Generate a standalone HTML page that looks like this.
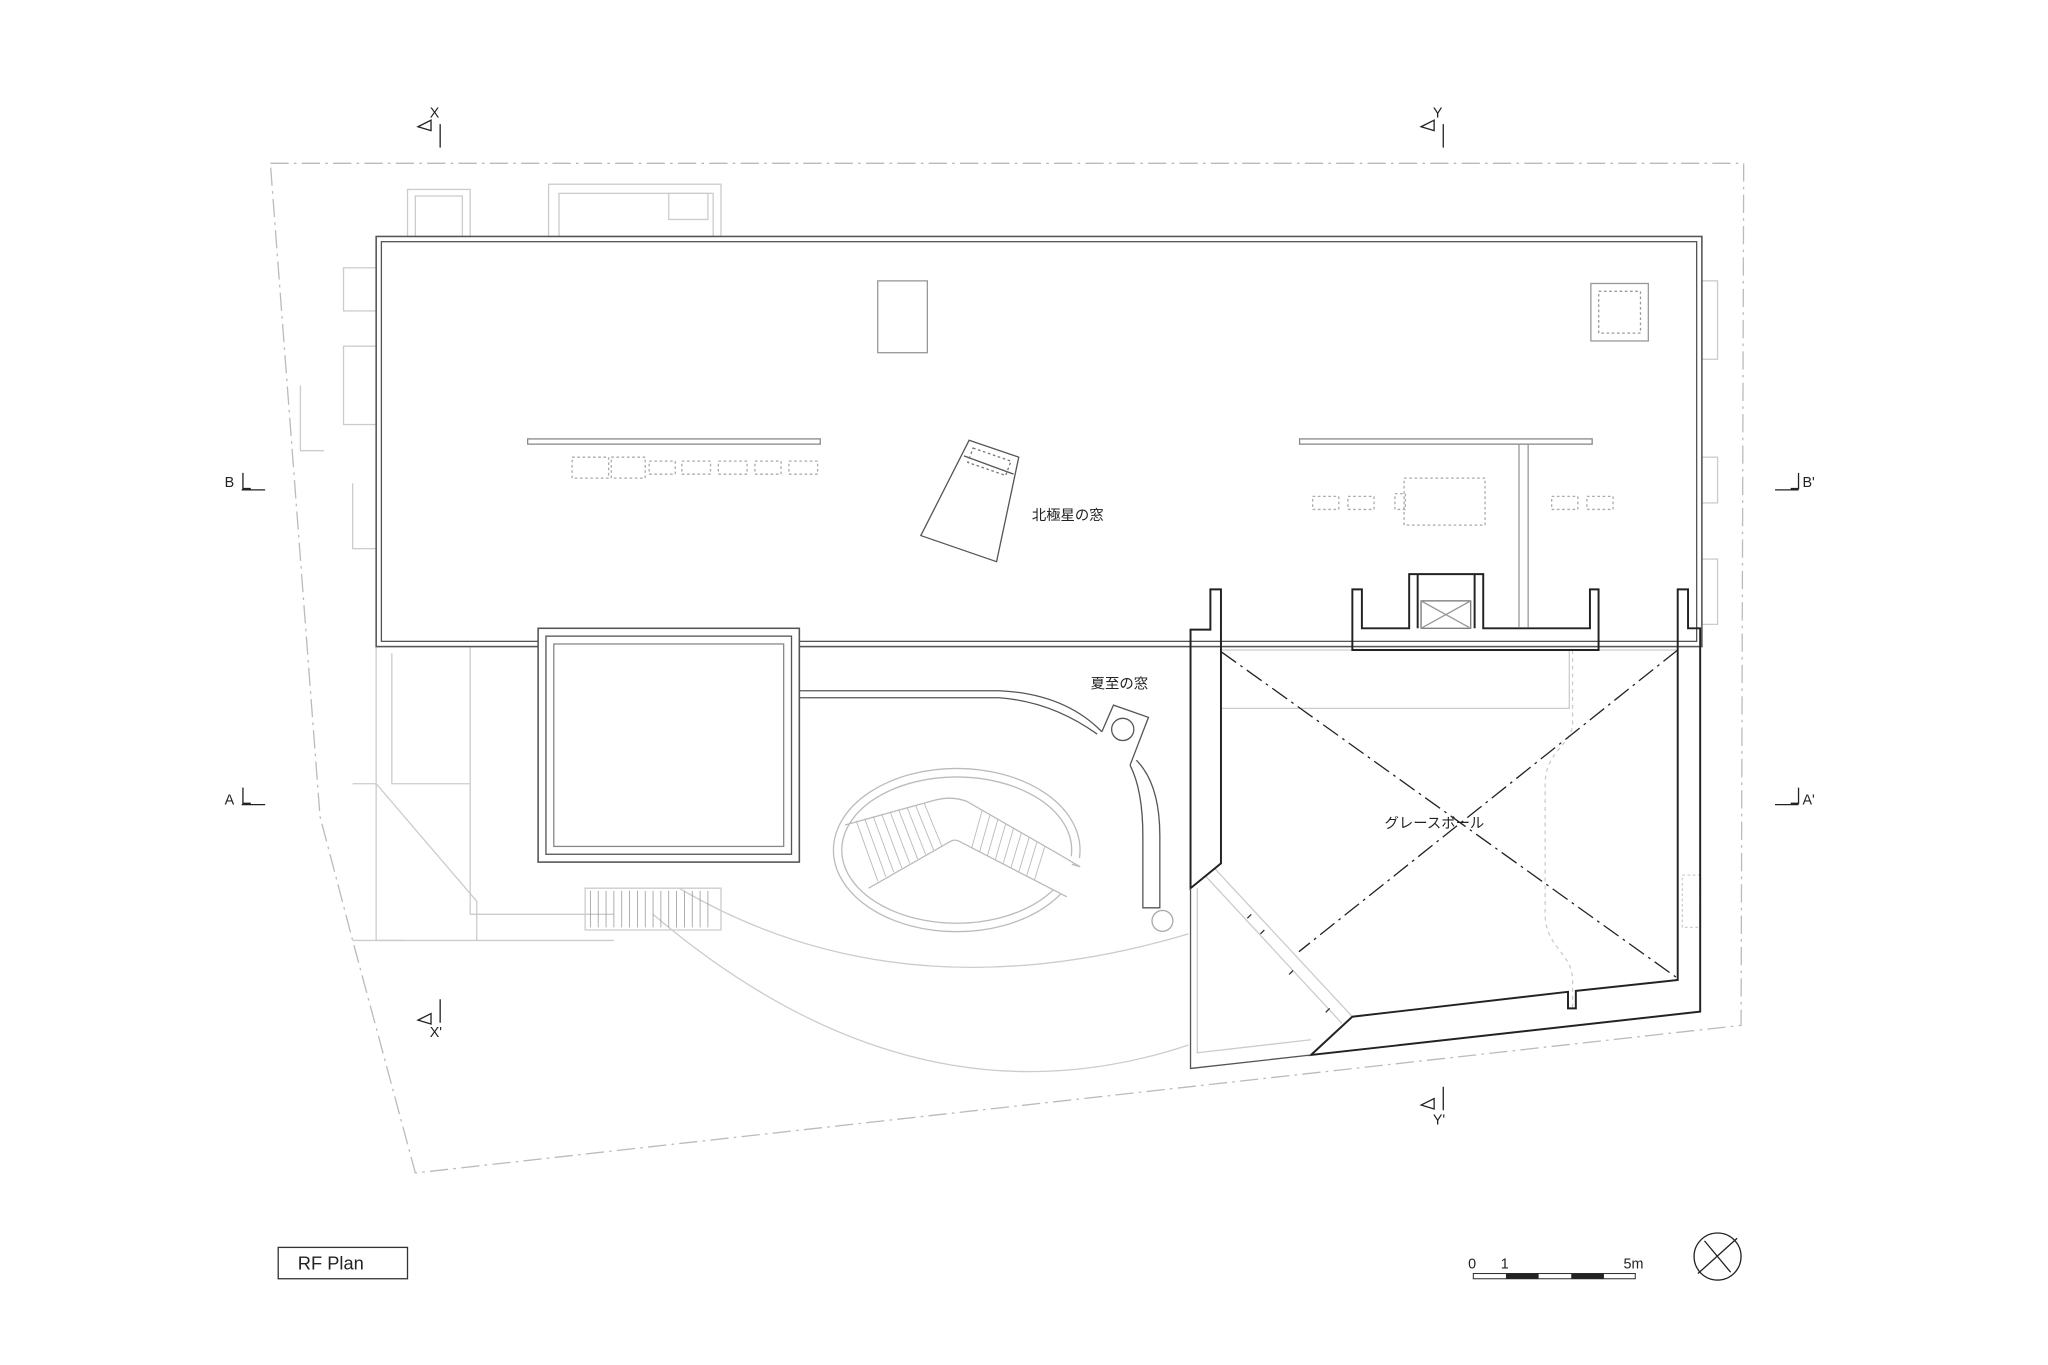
<!DOCTYPE html>
<html><head><meta charset="utf-8"><style>
html,body{margin:0;padding:0;background:#fff}
svg{display:block}
text{font-family:"Liberation Sans","Noto Sans CJK JP",sans-serif;fill:#222}
</style></head><body>
<svg width="2048" height="1365" viewBox="0 0 1568 1045" xmlns="http://www.w3.org/2000/svg">
<rect width="1568" height="1045" fill="#fff"/>
<!-- site boundary -->
<path d="M207,125 L1335,125 L1333,785 L318,898 L270,720 L245,625 Z" fill="none" stroke="#bbb" stroke-width="1" stroke-dasharray="14,4,2,4"/>
<!-- light neighbouring elements -->
<g fill="none" stroke="#ccc" stroke-width="1">
<rect x="312" y="145" width="48" height="36"/><rect x="318" y="150" width="36" height="31"/>
<rect x="420" y="141" width="132" height="40"/><rect x="428" y="148" width="118" height="33"/>
<rect x="512" y="148" width="30" height="20"/>
<rect x="263" y="205" width="25" height="33"/><rect x="263" y="265" width="25" height="60"/>
<path d="M230,295 L230,345 L248,345 M270,370 L270,420 L288,420"/>
<rect x="1303" y="215" width="12" height="60"/><rect x="1303" y="350" width="12" height="35"/><rect x="1303" y="428" width="12" height="50"/>
<path d="M288,495 L288,720 L470,720 M300,500 L300,600 L360,600 L360,700 L470,700 M360,495 L360,600"/>
<path d="M270,600 L288,600 L365,690 L365,720 M270,720 L310,720"/>
<path d="M448,680 L552,680 L552,712 L448,712 Z"/>
<path d="M500,700 Q700,870 910,800" />
<path d="M520,680 Q690,780 910,715"/>
<path d="M916.7,680 L916.7,806 L1003.7,796"/>
<rect x="1288" y="670" width="14" height="40" stroke-dasharray="2,2"/>
<path d="M1204,497.6 L1204,553.8 C1204,570 1183,575 1183,600 L1183,700 C1183,725 1204,730 1204,750 L1204,773" stroke-dasharray="3,3"/>
<path d="M934,497.6 L1035,497.6 M935,542.3 L1201.5,542.3 L1201.5,497.6"/>
<path d="M1223.9,497.6 L1284.5,497.6"/>
<path d="M923.3,671 L1027.4,783.5 M929.9,664.8 L1035.4,778.4"/>
</g>
<g stroke="#333" stroke-width="1">
<path d="M958,700 l-3,3 M968,712 l-3,3 M990,743 l-3,3 M1018,772 l-3,3"/>
</g>
<!-- stair treads -->
<g stroke="#999" stroke-width="0.6">
<path d="M452,682 v28 M458,682 v28 M464,682 v28 M470,682 v28 M476,682 v28 M482,682 v28 M488,682 v28 M494,682 v28 M500,682 v28 M506,682 v28 M512,682 v28 M518,682 v28 M524,682 v28 M530,682 v28 M536,682 v28 M542,682 v28"/>
</g>
<!-- main roof -->
<rect x="288" y="181" width="1015" height="314" fill="none" stroke="#555" stroke-width="1.2"/>
<rect x="292" y="185" width="1007" height="306" fill="none" stroke="#555" stroke-width="1"/>
<rect x="672" y="215" width="38" height="55" fill="none" stroke="#999"/>
<rect x="1218" y="217" width="44" height="44" fill="none" stroke="#999"/>
<rect x="1224" y="223" width="32" height="32" fill="none" stroke="#999" stroke-dasharray="2,2"/>
<rect x="404" y="336" width="224" height="4" fill="none" stroke="#888"/>
<rect x="995" y="336" width="224" height="4" fill="none" stroke="#888"/>
<path d="M1163,340 L1163,480 M1170,340 L1170,480" stroke="#999" fill="none"/>
<g fill="none" stroke="#aaa" stroke-dasharray="2,2">
<rect x="438" y="350" width="28" height="16"/><rect x="468" y="350" width="26" height="16"/><rect x="497" y="353" width="20" height="10"/><rect x="522" y="353" width="22" height="10"/><rect x="550" y="353" width="22" height="10"/><rect x="578" y="353" width="20" height="10"/><rect x="604" y="353" width="22" height="10"/>
<rect x="1005" y="380" width="20" height="10"/><rect x="1032" y="380" width="20" height="10"/><rect x="1075" y="366" width="62" height="36"/><rect x="1068" y="378" width="8" height="12"/><rect x="1188" y="380" width="20" height="10"/><rect x="1215" y="380" width="20" height="10"/>
</g>
<!-- polaris skylight -->
<path d="M742,337 L780,350 L763,430 L705,410 Z" fill="#fff" stroke="#555"/>
<path d="M738,349 L776,363" fill="none" stroke="#555"/>
<path d="M745,343 L774,353 L770,364 L741,354 Z" fill="none" stroke="#777" stroke-dasharray="2,2"/>
<text x="790" y="398" font-size="11">北極星の窓</text>
<!-- square box -->
<rect x="412" y="481" width="200" height="179" fill="#fff" stroke="#555" stroke-width="1.2"/>
<rect x="418" y="487" width="188" height="167" fill="none" stroke="#555"/>
<rect x="424" y="493" width="176" height="155" fill="none" stroke="#888"/>
<!-- curved terrace -->
<g fill="none" stroke="#555">
<path d="M612,528.8 L765,528.8 Q815,531 843.6,560.2"/>
<path d="M612,534.2 L765,534.2 Q805,537 840,562"/>
<path d="M843.6,560.2 L852.5,539.8 L879.3,549.2 L865.2,585.8"/>
<path d="M865.2,585.8 Q875,605 875,640 L875,695 L888,695 L888,640 Q888,600 870,582"/>
<circle cx="859.6" cy="558.4" r="8.5"/>
</g>
<circle cx="890" cy="705" r="8" fill="none" stroke="#aaa"/>
<!-- oval stair -->
<g fill="none" stroke="#bbb" stroke-width="1">
<ellipse cx="732.5" cy="650.8" rx="94.4" ry="62.5"/>
<ellipse cx="732.5" cy="650.8" rx="88" ry="56"/>
</g>
<path d="M735,644.4 L809,653 L840,660 L840,700 L816.8,686.6 Z" fill="#fff"/>
<g fill="none" stroke="#bbb" stroke-width="1">
<path d="M647,631.6 L714.5,612.9 Q728,609 740,613.4 L809,653 L827,663.6"/>
<path d="M665,680 L727.3,644.4 Q731,642 735,644.4 L816.8,686.6"/>
<path d="M820.6,661.7 L827,663.6"/>
</g>
<g stroke="#bbb" stroke-width="0.7">
<path d="M655.5,628.3 L672.1,674.6 M662,626.6 L678.2,671.2 M668.5,624.9 L684.3,667.8 M675,623.2 L690.4,664.4 M681.5,621.5 L696.5,661 M688,619.8 L702.6,657.6 M694.5,618.1 L708.7,654.2 M701,616.4 L714.8,650.8 M707.5,614.7 L720.9,647.4"/>
<path d="M752,620.3 L744,649 M758,623.8 L750,652.1 M764,627.2 L756,655.2 M770,630.6 L762,658.3 M776,634.1 L768,661.4 M782,637.5 L774,664.5 M788,641 L780,667.6 M794,644.4 L786,670.7 M800,647.9 L792,673.8"/>
</g>
<text x="835" y="527" font-size="11">夏至の窓</text>
<!-- grace ball building -->
<g fill="none" stroke="#222" stroke-width="1.5" stroke-linejoin="miter">
<path d="M911.5,680 L911.5,482 L926.7,482 L926.7,451.2 L934.8,451.2 L934.8,661 Z"/>
<path d="M1035.4,497.6 L1035.4,451.2 L1042.7,451.2 L1042.7,481 L1078.9,481 L1078.9,439.5 L1135.6,439.5 L1135.6,481 L1217.3,481 L1217.3,451.2 L1223.9,451.2 L1223.9,497.6 Z"/>
<path d="M1085.4,439.5 L1085.4,481 M1129,439.5 L1129,481"/>
<path d="M1284.5,497.6 L1284.5,451.2 L1292.4,451.2 L1292.4,481 L1301.7,481 L1301.7,774.5 L1003.7,807.7 L1035.3,778.4 L1200.5,759.3 L1200.5,772 L1206.5,772 L1206.5,758.6 L1284.5,750.3 Z"/>
</g>
<path d="M911.5,680 L911.5,818 L1003.7,807.7" stroke="#555" fill="none"/>
<rect x="1088" y="460" width="38" height="21" fill="none" stroke="#777"/>
<path d="M1088,460 L1126,481 M1126,460 L1088,481" stroke="#999"/>
<g stroke="#222" stroke-width="1" stroke-dasharray="14,4,2,4">
<path d="M935,499 L1284.5,749"/><path d="M1284.5,497.6 L994.5,728.6"/>
</g>
<text x="1060" y="634" font-size="11">グレースボール</text>
<!-- section markers -->
<g stroke="#222" fill="none" stroke-width="1">
<path d="M337,95 L337,113 M320,97 L330,92 L330,100 Z"/>
<path d="M1105,95 L1105,113 M1088,97 L1098,92 L1098,100 Z"/>
<path d="M337,765 L337,783 M320,781 L330,776 L330,784 Z"/>
<path d="M1105,832 L1105,850 M1088,846 L1098,841 L1098,849 Z"/>
<path d="M185,375 L203,375 M186,362 L186,374 L192,374"/>
<path d="M185,616 L203,616 M186,603 L186,615 L192,615"/>
<path d="M1359,375 L1377,375 M1377,362 L1377,374 L1371,374"/>
<path d="M1359,616 L1377,616 M1377,603 L1377,615 L1371,615"/>
</g>
<text x="329" y="90" font-size="11">X</text>
<text x="1097" y="90" font-size="11">Y</text>
<text x="329" y="794" font-size="11">X'</text>
<text x="1097" y="861" font-size="11">Y'</text>
<text x="172" y="373" font-size="11">B</text>
<text x="172" y="616" font-size="11">A</text>
<text x="1380" y="373" font-size="11">B'</text>
<text x="1380" y="616" font-size="11">A'</text>
<!-- title -->
<rect x="213" y="955" width="99" height="24" fill="none" stroke="#333"/>
<text x="228" y="972" font-size="14">RF  Plan</text>
<!-- scale -->
<text x="1124" y="971" font-size="11">0</text>
<text x="1149" y="971" font-size="11">1</text>
<text x="1243" y="971" font-size="11">5m</text>
<rect x="1128" y="975" width="124" height="4" fill="none" stroke="#333" stroke-width="0.8"/>
<rect x="1153" y="975" width="25" height="4" fill="#222"/>
<rect x="1203" y="975" width="25" height="4" fill="#222"/>
<circle cx="1315" cy="962" r="18" fill="none" stroke="#222"/>
<path d="M1300,975 L1330,948 M1305,950 L1325,974" stroke="#222"/>
</svg>
</body></html>
